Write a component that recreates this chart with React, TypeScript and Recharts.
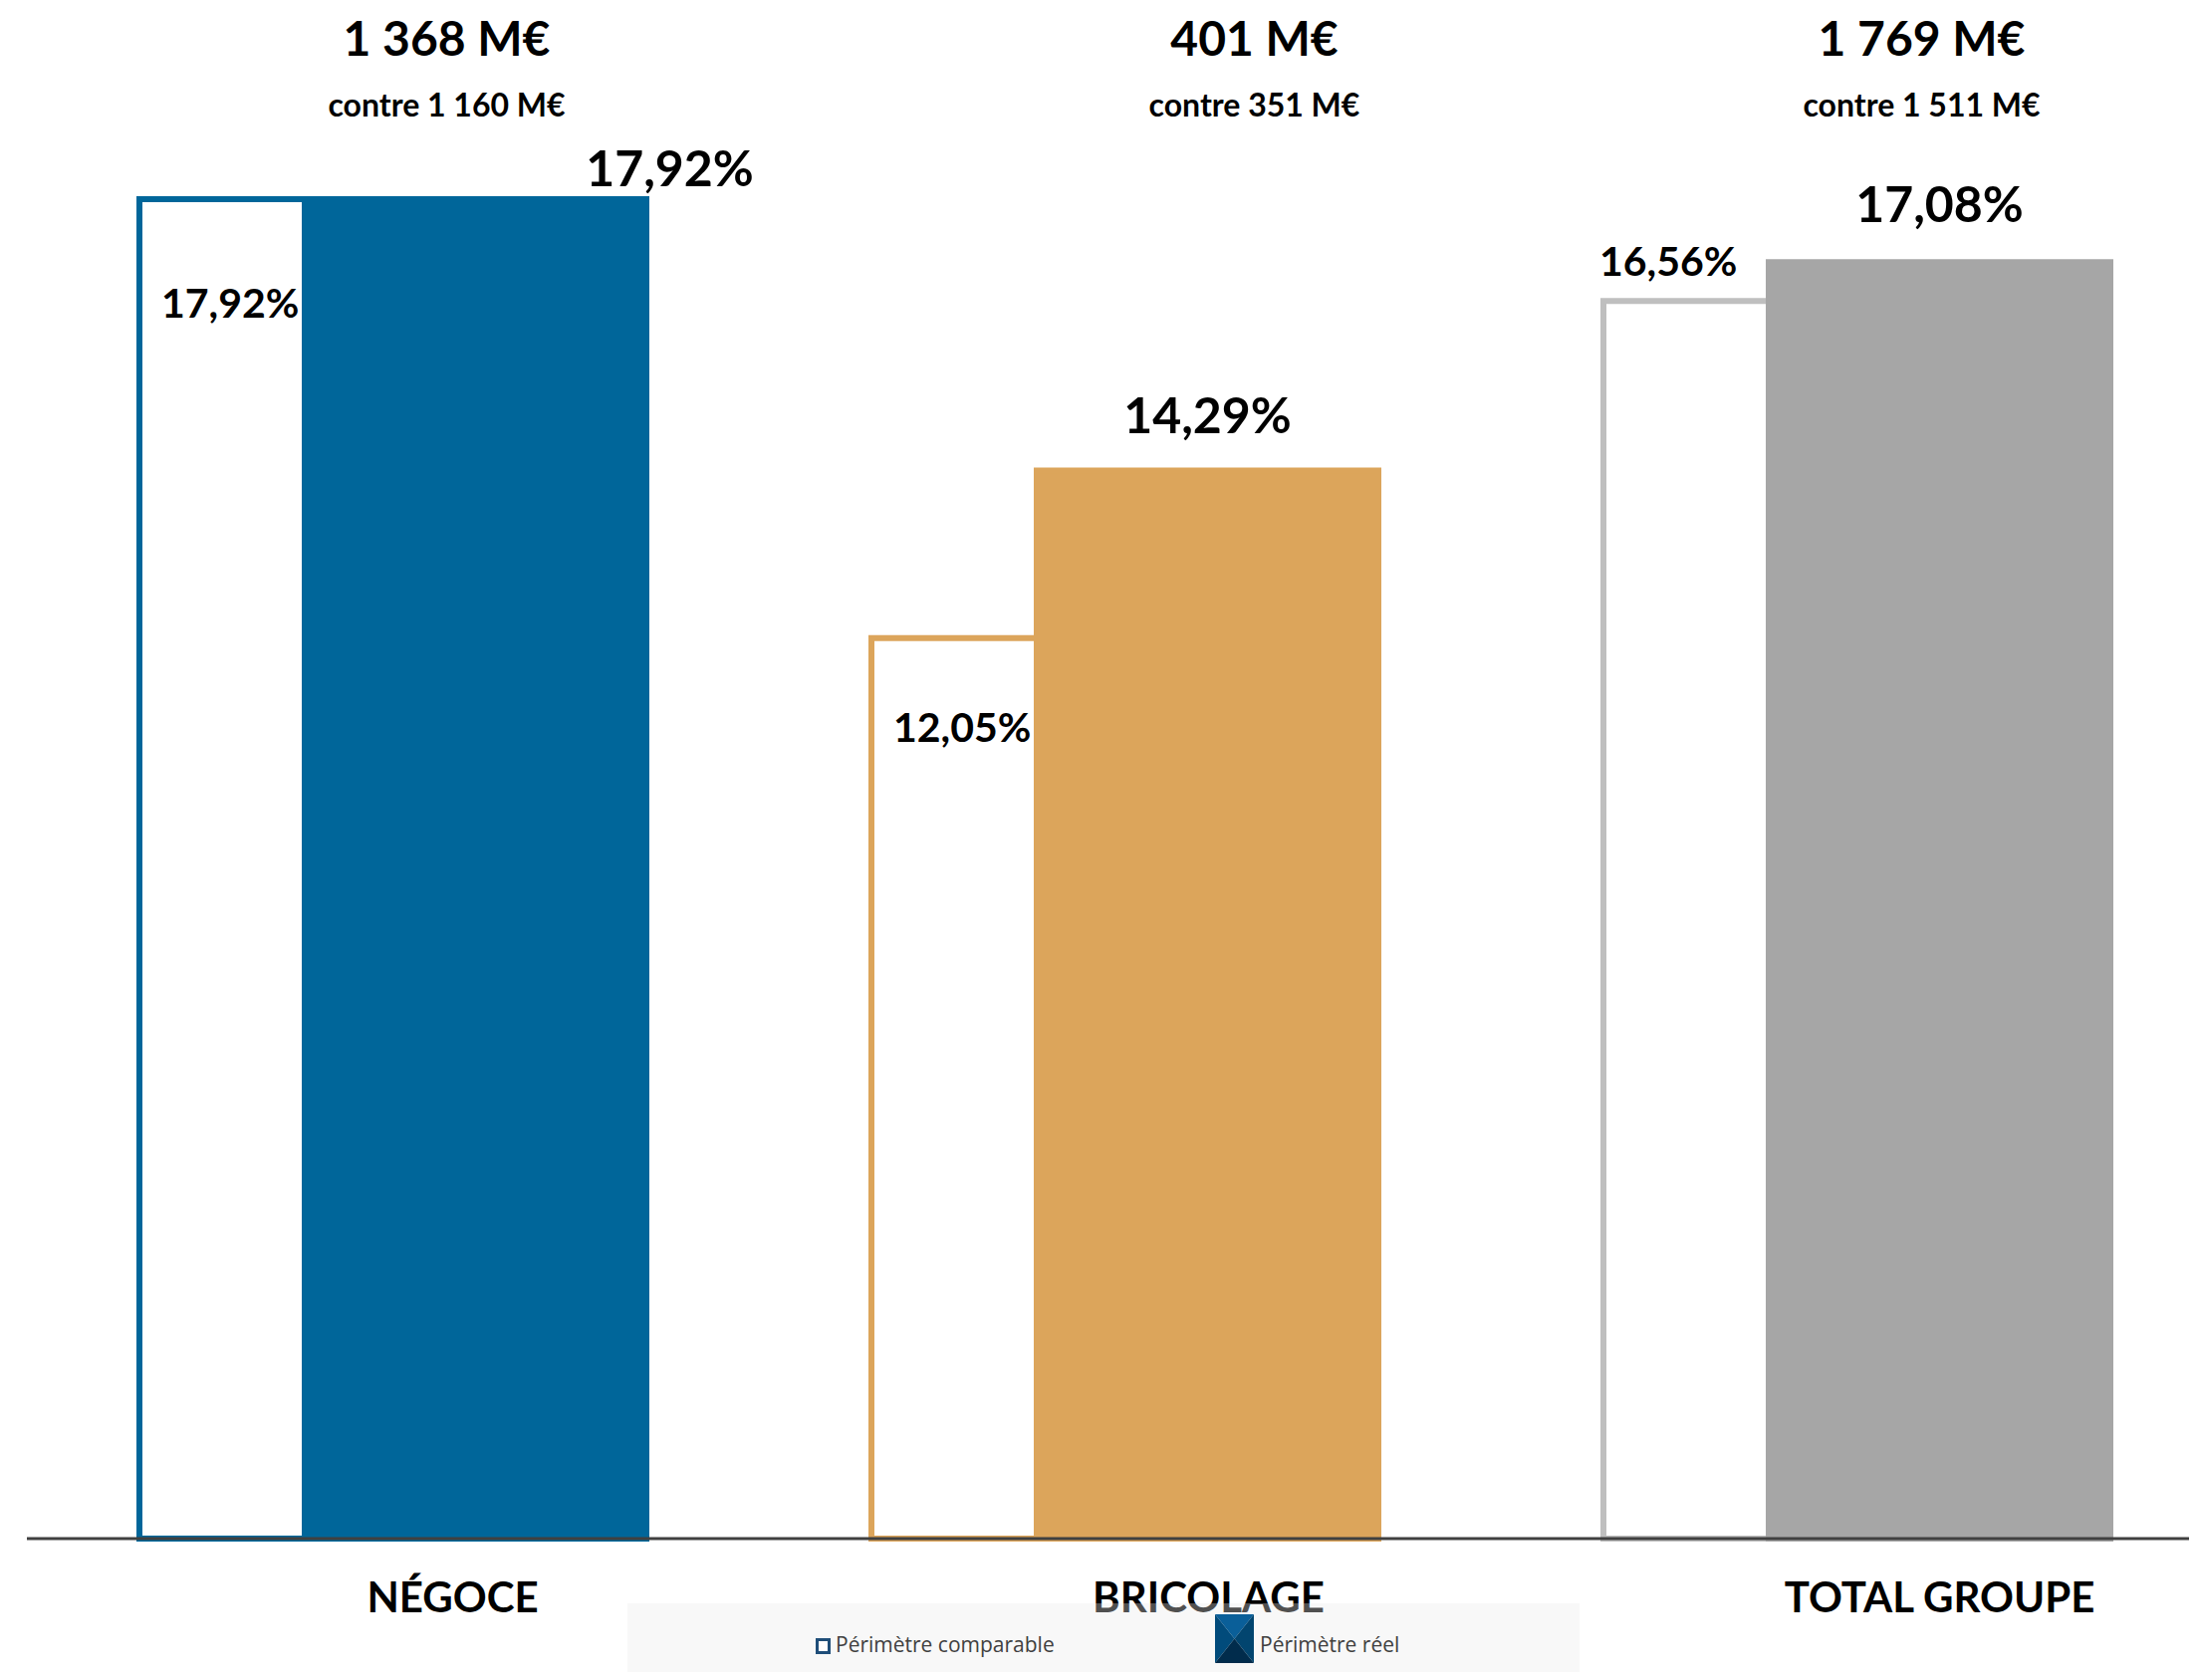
import { Bar, BarChart, Cell, LabelList, Legend, XAxis, YAxis } from 'recharts';

const categories = ['NÉGOCE', 'BRICOLAGE', 'TOTAL GROUPE'];
const comparableRates = [17.92, 12.05, 16.56];
const reelRates = [17.92, 14.29, 17.08];
const revenueLabels = ['1 368 M€', '401 M€', '1 769 M€'];
const previousRevenueLabels = ['contre 1 160 M€', 'contre 351 M€', 'contre 1 511 M€'];
const seriesNames = ['Périmètre comparable', 'Périmètre réel'];

const data = categories.map((name, i) => ({
    name,
    comparable: comparableRates[i],
    reel: reelRates[i],
}));

// styling
const fillColors = ['#00669a', '#dca55b', '#a6a6a6'];
const outlineColors = ['#00669a', '#dca55b', '#bfbfbf'];
const FONT = 'Lato, "Noto Sans", sans-serif';
const bottomTickShift = [60, 84, 83];
const headerShift = [54, 130, 65];
const reelLabelShift = [{ dx: 195, gap: 13 }, { dx: 0, gap: 38 }, { dx: 0, gap: 40 }];
const comparableLabelShift = [
    { dx: 22, dy: 119 },
    { dx: 22, dy: 104 },
    { dx: -4, dy: -25 },
];

const fmt = (v: number) => v.toFixed(2).replace('.', ',') + '%';

const BottomTick = (props: any) => {
    const { x, y, payload, index } = props;
    return (
        <text x={x + bottomTickShift[index]} y={y} dy={74} textAnchor="middle" fontFamily={FONT} fontWeight={700} fontSize={42} fill="#000">
            {payload.value}
        </text>
    );
};

const HeaderTick = (props: any) => {
    const { x, y, index } = props;
    const cx = x + headerShift[index];
    return (
        <g>
            <text x={cx} y={y} dy={12} textAnchor="middle" fontFamily={FONT} fontWeight={700} fontSize={48} fill="#000">
                {revenueLabels[index]}
            </text>
            <text x={cx} y={y} dy={73} textAnchor="middle" fontFamily={FONT} fontWeight={700} fontSize={32} fill="#000">
                {previousRevenueLabels[index]}
            </text>
        </g>
    );
};

const ReelLabel = (props: any) => {
    const { x, y, width, value, index } = props;
    const s = reelLabelShift[index];
    return (
        <text x={x + width / 2 + s.dx} y={y - s.gap} textAnchor="middle" fontFamily={FONT} fontWeight={700} fontSize={50} fill="#000">
            {fmt(value)}
        </text>
    );
};

const ComparableLabel = (props: any) => {
    const { x, y, value, index } = props;
    const s = comparableLabelShift[index];
    return (
        <text x={x + s.dx} y={y + s.dy} textAnchor="start" fontFamily={FONT} fontWeight={700} fontSize={41} fill="#000">
            {fmt(value)}
        </text>
    );
};

const LegendBox = () => (
    <div style={{ position: 'relative', width: 956, height: 80, background: 'rgba(234,234,234,0.34)', fontFamily: '"Open Sans", sans-serif', fontSize: 21, color: '#404040' }}>
        <div style={{ position: 'absolute', left: 189, top: 35, width: 9, height: 10, border: '3px solid #1f4e79', background: '#fff' }} />
        <span style={{ position: 'absolute', left: 209, top: 27, lineHeight: '28px' }}>{seriesNames[0]}</span>
        <svg style={{ position: 'absolute', left: 590, top: 11 }} width={39} height={49}>
            <polygon points="0,0 39,0 19.5,24.5" fill="#0a5f99" />
            <polygon points="0,0 19.5,24.5 0,49" fill="#014b7b" />
            <polygon points="39,0 19.5,24.5 39,49" fill="#02456f" />
            <polygon points="0,49 19.5,24.5 39,49" fill="#012c4c" />
        </svg>
        <span style={{ position: 'absolute', left: 635, top: 27, lineHeight: '28px' }}>{seriesNames[1]}</span>
    </div>
);

const App = () => (
    <div style={{ margin: -8, width: 2206, height: 1687, overflow: 'hidden', position: 'relative', background: '#fff' }}>
        <BarChart
            width={2240}
            height={1687}
            data={data}
            margin={{ top: 0, right: 8, bottom: 0, left: 27 }}
            barSize={343}
            barGap={-177}
        >
            <XAxis
                xAxisId="top"
                orientation="top"
                dataKey="name"
                height={44}
                tickLine={false}
                axisLine={false}
                tickSize={0}
                tickMargin={0}
                tick={<HeaderTick />}
                interval={0}
            />
            <XAxis
                dataKey="name"
                height={142}
                tickLine={false}
                tickSize={0}
                tickMargin={0}
                axisLine={{ stroke: '#404040', strokeWidth: 3 }}
                tick={<BottomTick />}
                interval={0}
            />
            <YAxis hide domain={[0, 20]} />
            <Legend verticalAlign="middle" align="center" content={<LegendBox />} wrapperStyle={{ left: 630, top: 1610, width: 956, height: 80 }} />
            <Bar dataKey="comparable" name={seriesNames[0]} fill="#fff" strokeWidth={6} isAnimationActive={false}>
                {data.map((d, i) => (
                    <Cell key={d.name} fill="#ffffff" stroke={outlineColors[i]} />
                ))}
                <LabelList dataKey="comparable" content={<ComparableLabel />} />
            </Bar>
            <Bar dataKey="reel" name={seriesNames[1]} fill="#00669a" strokeWidth={6} isAnimationActive={false}>
                {data.map((d, i) => (
                    <Cell key={d.name} fill={fillColors[i]} stroke={fillColors[i]} />
                ))}
                <LabelList dataKey="reel" content={<ReelLabel />} />
            </Bar>
        </BarChart>
    </div>
);

export default App;
